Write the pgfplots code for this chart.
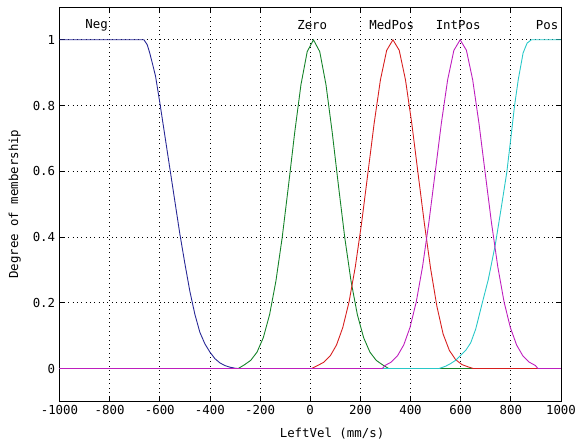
\documentclass[border=0pt]{standalone}
\usepackage{fontspec}
\setmainfont{DejaVu Sans Mono}
\usepackage{pgfplots}
\pgfplotsset{compat=1.18}
\definecolor{cneg}{RGB}{40,40,150}
\definecolor{czero}{RGB}{20,130,40}
\definecolor{cmed}{RGB}{215,30,30}
\definecolor{cint}{RGB}{190,30,190}
\definecolor{cpos}{RGB}{40,200,200}
\begin{document}
\fontsize{12.5}{14}\selectfont
\begin{tikzpicture}
\begin{axis}[
  scale only axis, width=506pt, height=398pt,
  xmin=-1000, xmax=1000, ymin=-0.1, ymax=1.1,
  xtick={-1000,-800,-600,-400,-200,0,200,400,600,800,1000},
  ytick={0,0.2,0.4,0.6,0.8,1},
  /pgf/number format/assume math mode=true,
  /pgf/number format/fixed,
  /pgf/number format/1000 sep={},
  scaled ticks=false,
  tick align=inside, major tick length=5pt,
  grid=major,
  major grid style={black, line width=0.7pt, dash pattern=on 0.8pt off 3.6pt},
  axis line style={black, line width=0.8pt},
  tick style={black, line width=0.8pt},
  xlabel={LeftVel (mm/s)},
  ylabel={Degree of membership},
  every axis x label/.style={at={([xshift=22pt,yshift=-23pt]axis description cs:0.5,0)}, anchor=north},
  every axis y label/.style={at={([xshift=-45pt]axis description cs:0,0.5)}, rotate=90, anchor=center},
  every axis plot/.append style={line width=0.9pt, no markers},
]
% Neg
\addplot[cneg] coordinates {(-1000,1) (-663,1) (-650,0.985) (-640,0.96) (-630,0.93) (-617,0.89) (-600,0.81) (-580,0.71) (-560,0.61) (-540,0.51) (-520,0.41) (-500,0.32) (-480,0.235) (-460,0.165) (-440,0.11) (-420,0.075) (-400,0.05) (-380,0.03) (-360,0.017) (-340,0.009) (-320,0.004) (-300,0.001) (-288,0) (1000,0)};
% Zero
\addplot[czero] coordinates {(-1000,0) (-287,0) (-262,0.0115) (-237,0.025) (-212,0.05) (-187,0.094) (-162,0.164) (-137,0.265) (-112,0.397) (-87,0.554) (-62,0.717) (-37,0.863) (-12,0.964) (13,1) (38,0.964) (63,0.863) (88,0.717) (113,0.554) (138,0.397) (163,0.265) (188,0.164) (213,0.094) (238,0.05) (263,0.025) (288,0.0115) (313,0) (1000,0)};
% MedPos
\addplot[cmed] coordinates {(-1000,0) (5,0) (30,0.0092) (55,0.0195) (80,0.0386) (105,0.0717) (130,0.125) (155,0.203) (180,0.310) (205,0.443) (230,0.594) (255,0.746) (280,0.878) (305,0.968) (330,1) (355,0.968) (380,0.878) (405,0.746) (430,0.594) (455,0.443) (480,0.305) (505,0.19) (530,0.105) (555,0.055) (580,0.027) (605,0.012) (630,0.005) (650,0) (1000,0)};
% Pos
\addplot[cpos] coordinates {(-1000,0) (514,0) (540,0.007) (560,0.015) (580,0.025) (600,0.04) (620,0.055) (640,0.078) (660,0.12) (685,0.196) (710,0.27) (738,0.376) (760,0.48) (784,0.597) (800,0.70) (815,0.80) (830,0.88) (849,0.96) (865,0.99) (882,1) (1000,1)};
% IntPos
\addplot[cint] coordinates {(-1000,0) (288,0) (298,0.0092) (323,0.0195) (348,0.0386) (373,0.0717) (398,0.125) (423,0.203) (448,0.310) (473,0.443) (498,0.594) (523,0.746) (548,0.878) (573,0.968) (598,1) (623,0.968) (648,0.878) (673,0.746) (698,0.594) (723,0.443) (748,0.310) (773,0.203) (798,0.125) (823,0.0717) (848,0.0386) (873,0.0195) (898,0.0092) (908,0) (1000,0)};
\node at (axis cs:-852,1.045) {Neg};
\node at (axis cs:8,1.045) {Zero};
\node at (axis cs:325,1.045) {MedPos};
\node at (axis cs:590,1.045) {IntPos};
\node at (axis cs:945,1.045) {Pos};
\end{axis}
\path ([shift={(-60pt,-47pt)}]current axis.south west) rectangle ([shift={(14pt,7pt)}]current axis.north east);
\end{tikzpicture}
\end{document}
